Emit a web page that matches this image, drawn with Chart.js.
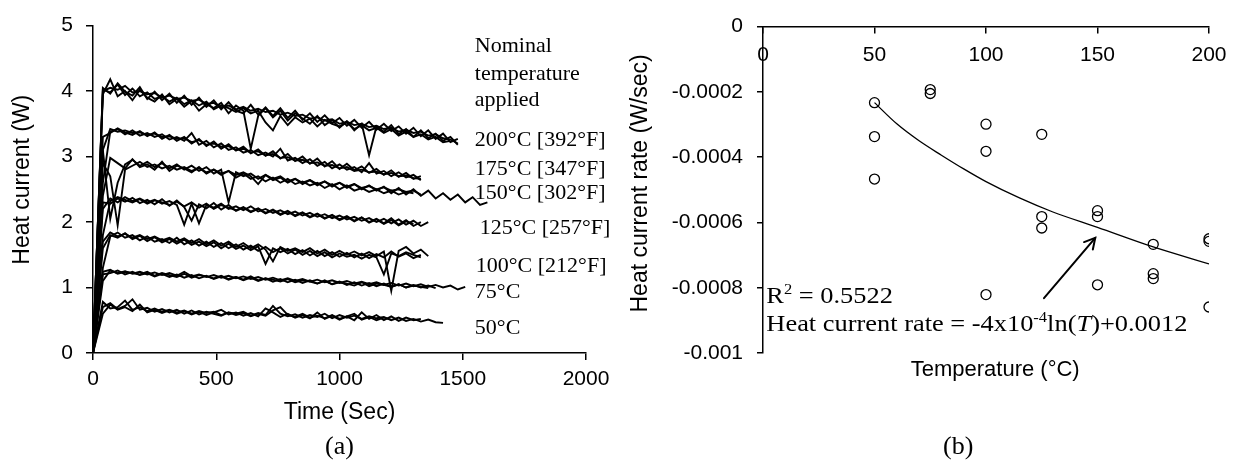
<!DOCTYPE html>
<html><head><meta charset="utf-8">
<script src="https://cdn.jsdelivr.net/npm/chart.js@4.4.1/dist/chart.umd.min.js"></script>
<style>
html,body{margin:0;padding:0;background:#fff;width:1241px;height:473px;overflow:hidden;}
#wa{position:absolute;left:0;top:0;width:620px;height:473px;}
#wb{position:absolute;left:620px;top:0;width:621px;height:473px;}
.cap{position:absolute;font-family:"Liberation Serif","Times New Roman",serif;font-size:26px;line-height:26px;color:#000;top:433px;}
</style></head><body>
<div id="wa"><canvas id="ca" width="620" height="473"></canvas></div>
<div id="wb"><canvas id="cb" width="621" height="473"></canvas></div>
<div class="cap" style="left:325px">(a)</div>
<div class="cap" style="left:943px">(b)</div>
<script>
// ---------- Panel (a): heat current vs time ----------
const timeSec = [0,40,70,100,130,160,190,220,250,280,310,340,370,400,430,460,490,520,550,580,610,640,670,700,730,760,790,820,850,880,910,940,970,1000,1030,1060,1090,1120,1150,1180,1210,1240,1270,1300,1330,1360,1390,1420,1450,1480,1510,1540,1570,1600];

const hc200a = [0,4.00,4.05,4.02,4.08,3.98,4.00,3.95,3.97,3.90,3.93,3.88,3.90,3.85,3.87,3.80,3.82,3.75,3.78,3.72,3.76,3.70,3.73,3.68,3.70,3.64,3.67,3.62,3.64,3.58,3.60,3.55,3.57,3.50,3.53,3.48,3.50,3.45,3.47,3.42,3.44,3.38,3.41,3.36,3.38,3.32,3.34,3.28,3.26,3.20];
const hc200b = [0,3.95,4.18,3.92,4.00,3.86,4.02,3.90,3.84,3.95,3.80,3.88,3.76,3.85,3.70,3.80,3.74,3.82,3.66,3.78,3.70,3.12,3.62,3.74,3.60,3.70,3.55,3.66,3.58,3.50,3.62,3.48,3.56,3.44,3.54,3.40,3.50,3.02,3.46,3.38,3.48,3.34,3.42,3.30,3.40,3.28,3.35,3.24,3.30,3.18];
const hc200c = [0,4.02,3.98,4.10,3.94,4.04,3.92,3.98,3.88,3.92,3.84,3.90,3.80,3.86,3.78,3.84,3.72,3.78,3.74,3.68,3.74,3.66,3.70,3.52,3.40,3.62,3.48,3.60,3.52,3.58,3.46,3.56,3.50,3.46,3.52,3.42,3.48,3.40,3.44,3.36,3.42,3.32,3.38,3.30,3.34,3.26,3.30,3.22,3.24];
const hc200d = [0,4.05,3.96,4.12,3.99,3.93,4.06,3.88,3.99,3.86,3.96,3.82,3.93,3.79,3.90,3.76,3.86,3.72,3.83,3.70,3.66,3.79,3.64,3.75,3.62,3.74,3.59,3.70,3.56,3.66,3.53,3.63,3.51,3.59,3.47,3.56,3.44,3.53,3.41,3.50,3.39,3.46,3.35,3.44,3.31,3.40,3.27,3.35,3.22,3.27];
const hc175a = [0,3.10,3.42,3.38,3.40,3.36,3.37,3.33,3.35,3.30,3.31,3.27,3.28,3.22,3.25,3.18,3.20,3.15,3.16,3.10,3.12,3.06,3.08,3.02,3.04,2.98,2.99,2.94,2.95,2.90,2.91,2.86,2.87,2.82,2.84,2.78,2.80,2.76,2.77,2.73,2.75,2.70,2.71,2.67,2.66];
const hc175b = [0,2.60,3.38,3.42,3.34,3.40,3.32,3.36,3.30,3.34,3.26,3.30,3.24,3.36,3.18,3.24,3.14,3.20,3.10,3.14,3.06,3.10,3.02,3.06,3.00,3.12,2.94,2.98,2.90,2.96,2.86,2.92,2.82,2.88,2.80,2.84,2.76,2.90,2.74,2.78,2.70,2.76,2.68,2.72,2.64];
const hc175c = [0,3.30,3.36,3.43,3.37,3.33,3.39,3.31,3.37,3.27,3.33,3.24,3.30,3.20,3.27,3.16,3.23,3.12,3.19,3.09,3.15,3.05,3.11,3.01,3.08,2.97,3.04,2.93,3.00,2.89,2.97,2.85,2.93,2.81,2.89,2.79,2.85,2.75,2.81,2.72,2.79,2.69,2.75,2.66,2.70];
const hc150a = [0,3.10,2.05,2.60,2.88,2.95,2.86,2.92,2.84,2.90,2.82,2.88,2.80,2.86,2.78,2.84,2.74,2.80,2.30,2.76,2.70,2.74,2.66,2.72,2.64,2.68,2.60,2.66,2.58,2.64,2.56,2.62,2.54,2.60,2.52,2.58,2.50,2.56,2.48,2.54,2.44,2.52,2.42,2.50,2.40,2.48,2.36,2.44,2.34,2.42,2.30,2.38,2.26,2.30];
const hc150b = [0,2.40,2.98,2.90,2.82,2.96,2.84,2.88,2.80,2.92,2.78,2.86,2.82,2.76,2.84,2.74,2.80,2.72,2.78,2.68,2.74,2.66,2.70,2.62,2.68,2.60,2.66,2.58,2.62,2.56,2.60,2.52,2.58,2.50,2.56,2.48,2.52,2.46,2.50,2.44,2.48,2.42,2.46,2.44];
const hc150c = [0,2.90,2.70,1.95,2.80,2.86,2.92,2.84,2.88,2.82,2.86,2.80,2.84,2.78,2.82,2.76,2.80,2.74,2.78,2.72,2.76,2.70,2.58,2.72,2.66,2.70,2.62,2.66,2.60,2.64,2.58,2.62,2.56,2.60,2.54,2.58,2.52,2.55,2.50,2.53,2.48,2.50,2.46,2.48,2.42];
const hc125a = [0,2.20,2.36,2.30,2.38,2.32,2.36,2.30,2.34,2.28,2.32,2.26,1.96,2.28,1.98,2.26,2.22,2.28,2.20,2.24,2.18,2.24,2.16,2.20,2.14,2.18,2.12,2.16,2.10,2.14,2.08,2.12,2.06,2.10,2.04,2.08,2.02,2.06,2.00,2.05,1.98,2.04,1.96,2.02,1.94,2.00];
const hc125b = [0,1.80,2.32,2.38,2.34,2.30,2.35,2.28,2.33,2.30,2.26,2.31,2.24,2.30,2.22,2.28,2.20,2.26,2.22,2.18,2.23,2.16,2.21,2.14,2.19,2.12,2.17,2.10,2.15,2.08,2.13,2.06,2.11,2.04,2.09,2.02,2.07,2.00,2.05,1.98,2.06,1.96,2.03,1.94,2.00];
const hc125c = [0,2.30,2.28,2.36,2.31,2.37,2.29,2.34,2.27,2.35,2.25,2.33,2.23,2.02,2.27,2.21,2.29,2.19,2.26,2.17,2.22,2.15,2.20,2.13,2.18,2.11,2.16,2.09,2.14,2.07,2.12,2.05,2.10,2.03,2.08,2.01,2.07,1.99,2.04,1.97,2.03,1.95,2.01,1.97];
const hc100a = [0,1.70,1.84,1.78,1.82,1.76,1.80,1.74,1.78,1.72,1.76,1.70,1.75,1.68,1.74,1.66,1.72,1.64,1.70,1.62,1.68,1.60,1.66,1.58,1.40,1.62,1.56,1.60,1.54,1.60,1.52,1.58,1.50,1.56,1.50,1.55,1.49,1.54,1.48,1.55,0.95,1.56,1.62,1.52,1.58,1.48];
const hc100b = [0,1.30,1.78,1.84,1.76,1.80,1.72,1.78,1.70,1.74,1.68,1.76,1.66,1.72,1.64,1.70,1.62,1.68,1.60,1.66,1.58,1.64,1.56,1.62,1.54,1.60,1.52,1.58,1.50,1.56,1.48,1.54,1.46,1.52,1.47,1.50,1.44,1.50,1.46,1.20,1.52,1.48,1.54,1.50,1.46];
const hc100c = [0,1.60,1.80,1.76,1.83,1.74,1.79,1.71,1.77,1.69,1.74,1.67,1.73,1.65,1.70,1.63,1.69,1.60,1.67,1.59,1.64,1.57,1.63,1.36,1.60,1.54,1.59,1.51,1.57,1.49,1.56,1.48,1.54,1.47,1.53,1.46,1.52,1.45,1.51,1.46,1.55,1.47,1.52,1.45,1.50];
const hc75a = [0,1.10,1.26,1.22,1.25,1.21,1.24,1.20,1.23,1.19,1.22,1.18,1.24,1.17,1.20,1.16,1.19,1.15,1.18,1.14,1.17,1.13,1.16,1.12,1.15,1.11,1.14,1.10,1.13,1.09,1.12,1.08,1.11,1.07,1.10,1.06,1.09,1.05,1.08,1.04,1.07,1.03,1.06,1.02,1.05,1.01,1.04,1.00,1.03,0.97,1.01];
const hc75b = [0,1.20,1.22,1.26,1.20,1.24,1.19,1.22,1.17,1.21,1.16,1.20,1.15,1.19,1.14,1.18,1.13,1.17,1.12,1.16,1.11,1.15,1.10,1.14,1.09,1.13,1.08,1.12,1.07,1.11,1.06,1.10,1.05,1.09,1.04,1.08,1.03,1.07,1.02,1.06,1.01,1.05,1.00,1.04,1.00,1.03,0.99];
const hc75c = [0,1.24,1.27,1.21,1.24,1.22,1.20,1.24,1.18,1.22,1.19,1.16,1.21,1.15,1.19,1.17,1.14,1.18,1.13,1.16,1.12,1.17,1.11,1.14,1.12,1.09,1.13,1.08,1.11,1.09,1.06,1.11,1.05,1.08,1.06,1.03,1.08,1.02,1.06,1.04,1.01,1.05,1.00,1.03,1.01,0.99];
const hc50a = [0,0.78,0.68,0.70,0.80,0.66,0.70,0.64,0.68,0.63,0.66,0.62,0.65,0.60,0.64,0.61,0.63,0.58,0.62,0.60,0.63,0.57,0.61,0.58,0.72,0.60,0.56,0.59,0.54,0.58,0.55,0.60,0.53,0.58,0.54,0.57,0.52,0.56,0.53,0.55,0.50,0.54,0.49,0.52,0.48,0.51,0.47,0.46];
const hc50b = [0,0.60,0.74,0.66,0.70,0.64,0.74,0.62,0.66,0.61,0.65,0.60,0.64,0.59,0.63,0.58,0.62,0.66,0.59,0.62,0.57,0.61,0.56,0.68,0.62,0.55,0.60,0.54,0.58,0.53,0.62,0.52,0.57,0.51,0.56,0.50,0.62,0.52,0.58,0.50,0.56,0.49,0.54,0.50,0.52];
const hc50c = [0,0.70,0.76,0.67,0.72,0.82,0.66,0.69,0.63,0.67,0.62,0.66,0.60,0.65,0.59,0.63,0.60,0.57,0.62,0.58,0.61,0.56,0.60,0.57,0.65,0.70,0.58,0.55,0.60,0.54,0.57,0.53,0.58,0.52,0.56,0.60,0.51,0.55,0.50,0.54,0.51];

const timeTicks = [0,500,1000,1500,2000];
const currentTicks = [0,1,2,3,4,5];
const tempNotes = ['Nominal','temperature','applied','200°C [392°F]','175°C [347°F]','150°C [302°F]','125°C [257°F]','100°C [212°F]','75°C','50°C'];

// ---------- Panel (b): heat current rate vs temperature ----------
const tempC = [50,50,50,75,75,100,100,100,125,125,125,150,150,150,175,175,175,200,200,200];
const rateWs = [-0.000233,-0.000337,-0.000467,-0.000193,-0.000205,-0.000299,-0.000382,-0.000821,-0.000330,-0.000582,-0.000617,-0.000564,-0.000582,-0.000791,-0.000667,-0.000757,-0.000772,-0.000650,-0.000658,-0.000859];
const trendT = [50,60,70,80,90,100,115,130,150,175,200];
const trendRate = [-0.000233,-0.000298,-0.000350,-0.000394,-0.000436,-0.000475,-0.000525,-0.000568,-0.000615,-0.000675,-0.000727];
const tempTicks = [0,50,100,150,200];
const rateTicks = [0,-0.0002,-0.0004,-0.0006,-0.0008,-0.001];

// ---------- helpers ----------
const SANS = "'Liberation Sans', Arial, sans-serif";
const SERIF = "'Liberation Serif', 'Times New Roman', serif";
const BLACK = '#000';

// annotation anchors (data coordinates of panel a): text left edge / baseline
const noteAnchors = [
  {t:1549, v:4.594},{t:1549, v:4.171},{t:1549, v:3.775},
  {t:1549, v:3.158},{t:1549, v:2.723},{t:1549, v:2.351},
  {t:1569, v:1.820},{t:1553, v:1.235},{t:1549, v:0.838},{t:1549, v:0.293}
];

const leftSeries = [hc200a,hc200b,hc200c,hc200d,hc175a,hc175b,hc175c,hc150a,hc150b,hc150c,hc125a,hc125b,hc125c,hc100a,hc100b,hc100c,hc75a,hc75b,hc75c,hc50a,hc50b,hc50c];
const toPts = vals => vals.map((v,i)=>({x:timeSec[i], y:v}));

const tickGrid = len => ({display:true, drawOnChartArea:false, drawTicks:true, tickLength:len, color:BLACK, lineWidth:1.5});
const border = {display:true, color:BLACK, width:1.5};

const notesPlugin = {
  id:'notes',
  afterDraw(chart){
    const {ctx, scales:{x,y}} = chart;
    ctx.save();
    ctx.fillStyle = BLACK;
    ctx.font = `22px ${SERIF}`;
    ctx.textAlign = 'left';
    ctx.textBaseline = 'alphabetic';
    tempNotes.forEach((txt,i)=>{
      const a = noteAnchors[i];
      ctx.fillText(txt, x.getPixelForValue(a.t), y.getPixelForValue(a.v));
    });
    ctx.restore();
  }
};

new Chart(document.getElementById('ca'), {
  type:'line',
  data:{datasets: leftSeries.map(s=>({data:toPts(s), borderColor:BLACK, borderWidth:1.9, pointRadius:0, fill:false, tension:0}))},
  options:{
    responsive:false, animation:false, devicePixelRatio:1,
    layout:{padding:{left:0,right:34,top:17,bottom:0}},
    plugins:{legend:{display:false}, tooltip:{enabled:false}},
    scales:{
      x:{type:'linear', min:0, max:2000,
        afterBuildTicks:s=>{s.ticks = timeTicks.map(v=>({value:v}));},
        ticks:{color:BLACK, font:{family:SANS,size:21}, padding:7, maxRotation:0, callback:v=>String(v)},
        grid:tickGrid(7), border:border,
        title:{display:true, text:'Time (Sec)', color:BLACK, font:{family:SANS,size:23}, padding:{top:0,bottom:47}},
        afterFit:s=>{s.height=120;}},
      y:{type:'linear', min:0, max:5,
        afterBuildTicks:s=>{s.ticks = currentTicks.map(v=>({value:v}));},
        ticks:{color:BLACK, font:{family:SANS,size:21}, padding:13, callback:v=>String(v)},
        grid:tickGrid(7), border:border,
        title:{display:true, text:'   Heat current (W)', color:BLACK, font:{family:SANS,size:23}, padding:{top:9,bottom:0}},
        afterFit:s=>{s.width=93;}}
    }
  },
  plugins:[notesPlugin]
});

// rich text (superscripts / italics) for panel b
function drawRich(ctx, segs, size){
  let cx = 0;
  segs.forEach(s=>{
    const sz = s.sup ? Math.round(size*0.62) : size;
    ctx.font = `${s.it?'italic ':''}${sz}px ${SERIF}`;
    ctx.fillText(s.t, cx, s.sup ? -size*0.36 : 0);
    cx += ctx.measureText(s.t).width;
  });
}
const fitNote = {
  r2:[{t:'R'},{t:'2',sup:true},{t:' = 0.5522'}],
  eq:[{t:'Heat current rate = -4x10'},{t:'-4',sup:true},{t:'ln('},{t:'T',it:true},{t:')+0.0012'}],
  r2At:{T:1.5, v:-0.000847}, eqAt:{T:1.5, v:-0.000933},
  arrowFrom:{T:126, v:-0.000832}, arrowTo:{T:149, v:-0.000647}
};
const fitPlugin = {
  id:'fitNote',
  afterDraw(chart){
    const {ctx, scales:{x,y}} = chart;
    ctx.save();
    ctx.fillStyle = BLACK; ctx.textAlign='left'; ctx.textBaseline='alphabetic';
    [[fitNote.r2, fitNote.r2At],[fitNote.eq, fitNote.eqAt]].forEach(([segs, at])=>{
      ctx.save();
      ctx.translate(x.getPixelForValue(at.T), y.getPixelForValue(at.v));
      ctx.scale(1.1, 1);
      drawRich(ctx, segs, 24);
      ctx.restore();
    });
    const x1 = x.getPixelForValue(fitNote.arrowFrom.T), y1 = y.getPixelForValue(fitNote.arrowFrom.v);
    const x2 = x.getPixelForValue(fitNote.arrowTo.T), y2 = y.getPixelForValue(fitNote.arrowTo.v);
    ctx.strokeStyle = BLACK; ctx.lineWidth = 2; ctx.lineCap='round';
    ctx.beginPath(); ctx.moveTo(x1,y1); ctx.lineTo(x2,y2); ctx.stroke();
    const ang = Math.atan2(y2-y1, x2-x1), L = 12, W = 0.5;
    ctx.beginPath();
    ctx.moveTo(x2 - L*Math.cos(ang-W), y2 - L*Math.sin(ang-W));
    ctx.lineTo(x2, y2);
    ctx.lineTo(x2 - L*Math.cos(ang+W), y2 - L*Math.sin(ang+W));
    ctx.stroke();
    ctx.restore();
  }
};

const rateLabel = v => (v === 0 ? '0' : String(+Number(v).toFixed(4)));

new Chart(document.getElementById('cb'), {
  type:'scatter',
  data:{datasets:[
    {data: trendT.map((t,i)=>({x:t, y:trendRate[i]})), showLine:true, borderColor:BLACK, borderWidth:1.3, pointRadius:0, fill:false, cubicInterpolationMode:'monotone'},
    {data: tempC.map((t,i)=>({x:t, y:rateWs[i]})), showLine:false, pointRadius:5, pointBorderWidth:1.3, pointBorderColor:BLACK, pointBackgroundColor:'rgba(255,255,255,0)'}
  ]},
  options:{
    responsive:false, animation:false, devicePixelRatio:1,
    layout:{padding:{left:0,right:32,top:19,bottom:0}},
    plugins:{legend:{display:false}, tooltip:{enabled:false}},
    scales:{
      x:{type:'linear', min:0, max:200, position:{y:0},
        afterBuildTicks:s=>{s.ticks = tempTicks.map(v=>({value:v}));},
        ticks:{color:BLACK, font:{family:SANS,size:21}, padding:10, maxRotation:0, callback:v=>String(v)},
        grid:tickGrid(6), border:border},
      x2:{type:'linear', min:0, max:200, position:'bottom',
        ticks:{display:false}, grid:{display:false}, border:{display:false},
        title:{display:true, text:'   Temperature (°C)', color:BLACK, font:{family:SANS,size:22}, padding:{top:0,bottom:90}},
        afterFit:s=>{s.height=120;}},
      y:{type:'linear', min:-0.001, max:0,
        afterBuildTicks:s=>{s.ticks = rateTicks.map(v=>({value:v}));},
        ticks:{color:BLACK, font:{family:SANS,size:21}, padding:14, callback:rateLabel},
        grid:tickGrid(6), border:border,
        title:{display:true, text:'  Heat current rate (W/sec)', color:BLACK, font:{family:SANS,size:23}, padding:{top:7,bottom:0}},
        afterFit:s=>{s.width=143;}}
    }
  },
  plugins:[fitPlugin]
});
</script>
</body></html>
